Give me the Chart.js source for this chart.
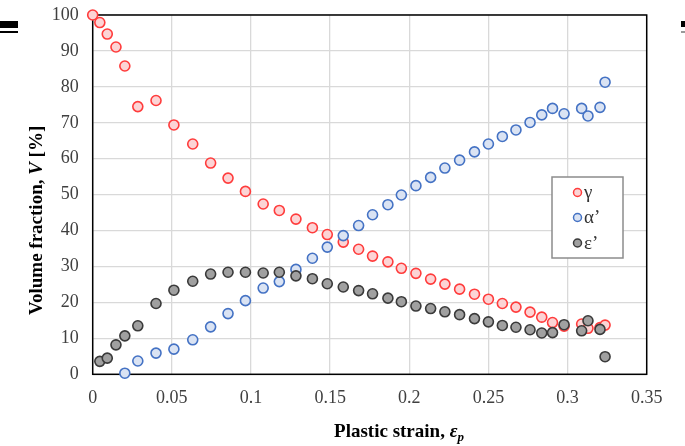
<!DOCTYPE html>
<html>
<head>
<meta charset="utf-8">
<script src="https://cdn.jsdelivr.net/npm/chart.js@4/dist/chart.umd.min.js"></script>
<style>
  html, body { margin: 0; padding: 0; background: #fff; }
  #wrap { position: relative; width: 685px; height: 446px; }
  canvas { position: absolute; left: 0; top: 0; }
  .bar { position: absolute; background: #000; }
</style>
</head>
<body>
<div id="wrap">
  <canvas id="c" width="685" height="446" style="width:685px;height:446px"></canvas>
  <div class="bar" style="left:0;top:21px;width:18px;height:7px"></div>
  <div class="bar" style="left:0;top:31px;width:18px;height:2px"></div>
  <div class="bar" style="left:681px;top:21px;width:4px;height:6px"></div>
  <div class="bar" style="left:681px;top:31px;width:4px;height:2px;background:#999"></div>
</div>
<script>
// ---- data ----
const strain = [0, 0.0045, 0.0092, 0.0147, 0.0203, 0.0285, 0.0400, 0.0513, 0.0632, 0.0745, 0.0855, 0.0965,
  0.1077, 0.1179, 0.1284, 0.1388, 0.1482, 0.1583, 0.1680, 0.1768, 0.1865, 0.1950, 0.2042, 0.2135,
  0.2225, 0.2318, 0.2412, 0.2500, 0.2588, 0.2674, 0.2763, 0.2837, 0.2905, 0.2978, 0.3089, 0.3129,
  0.3205, 0.3237];
const gamma = [100, 97.9, 94.7, 91.1, 85.8, 74.5, 76.2, 69.4, 64.1, 58.8, 54.6, 50.9, 47.4, 45.6, 43.2,
  40.8, 38.9, 36.8, 34.8, 32.9, 31.3, 29.5, 28.1, 26.5, 25.1, 23.7, 22.3, 20.9, 19.7, 18.7, 17.3,
  15.9, 14.4, 13.4, 14.0, 12.8, 13.0, 13.7];
const alphaP = [null, null, null, null, 0.3, 3.7, 5.9, 7.0, 9.6, 13.2, 16.9, 20.5, 24.0, 25.8, 29.2,
  32.3, 35.4, 38.6, 41.4, 44.4, 47.2, 49.9, 52.5, 54.8, 57.4, 59.6, 61.9, 64.1, 66.2, 68.0, 70.1,
  72.2, 74.0, 72.5, 74.0, 71.9, 74.3, 81.3];
const epsP = [null, 3.6, 4.5, 8.2, 10.7, 13.5, 19.7, 23.4, 25.9, 27.9, 28.4, 28.4, 28.2, 28.4, 27.4,
  26.6, 25.2, 24.3, 23.3, 22.4, 21.2, 20.2, 19.0, 18.3, 17.4, 16.6, 15.5, 14.6, 13.6, 13.1, 12.4,
  11.5, 11.6, 13.8, 12.1, 14.9, 12.5, 4.9];
const seriesNames = ['γ', 'α’', 'ε’'];
const xTickLabels = ['0', '0.05', '0.1', '0.15', '0.2', '0.25', '0.3', '0.35'];
const yTickLabels = ['0', '10', '20', '30', '40', '50', '60', '70', '80', '90', '100'];

function pts(vals) {
  const out = [];
  vals.forEach((v, i) => { if (v !== null) out.push({ x: strain[i], y: v }); });
  return out;
}

const styles = [
  { border: 'rgb(255,60,60)', fill: 'rgb(252,212,213)', order: 3 },
  { border: 'rgb(68,114,196)', fill: 'rgb(218,227,243)', order: 2 },
  { border: 'rgb(58,58,58)', fill: 'rgb(160,160,160)', order: 1 }
];
const seriesVals = [gamma, alphaP, epsP];

const SERIF = '"Liberation Serif", "Times New Roman", serif';

const framePlugin = {
  id: 'frame',
  beforeDatasetsDraw(chart) {
    const { ctx, chartArea: a } = chart;
    ctx.save();
    ctx.strokeStyle = '#000';
    ctx.lineWidth = 1.5;
    ctx.strokeRect(a.left, a.top, a.right - a.left, a.bottom - a.top);
    ctx.restore();
  },
  afterDatasetsDraw(chart) {
    const { ctx } = chart;
    ctx.save();
    const bx = 552, by = 177, bw = 71, bh = 81;
    ctx.fillStyle = '#fff';
    ctx.fillRect(bx, by, bw, bh);
    ctx.strokeStyle = '#8c8c8c';
    ctx.lineWidth = 1.5;
    ctx.strokeRect(bx, by, bw, bh);
    const rows = [192.5, 217.5, 243];
    seriesNames.forEach((name, i) => {
      ctx.beginPath();
      ctx.arc(577.5, rows[i], 4, 0, Math.PI * 2);
      ctx.fillStyle = styles[i].fill;
      ctx.fill();
      ctx.lineWidth = 1.5;
      ctx.strokeStyle = styles[i].border;
      ctx.stroke();
      ctx.fillStyle = '#333';
      ctx.font = '19px ' + SERIF;
      ctx.textBaseline = 'middle';
      ctx.textAlign = 'left';
      ctx.fillText(name, 584, rows[i] + 1);
    });
    ctx.restore();
  },
  afterDraw(chart) {
    const { ctx } = chart;
    ctx.save();
    ctx.fillStyle = '#000';
    ctx.textBaseline = 'alphabetic';
    const bold = 'bold 19px ' + SERIF;
    const boldIt = 'italic bold 19px ' + SERIF;
    const sub = 'italic bold 13px ' + SERIF;
    ctx.font = bold;
    const t1 = 'Plastic strain, ';
    const w1 = ctx.measureText(t1).width;
    ctx.font = boldIt;
    const w2 = ctx.measureText('ε').width;
    ctx.font = sub;
    const w3 = ctx.measureText('p').width;
    let x = 399 - (w1 + w2 + w3) / 2;
    const y = 437;
    ctx.font = bold; ctx.fillText(t1, x, y); x += w1;
    ctx.font = boldIt; ctx.fillText('ε', x, y); x += w2;
    ctx.font = sub; ctx.fillText('p', x, y + 4);
    ctx.translate(42, 315);
    ctx.rotate(-Math.PI / 2);
    let xx = 0;
    const p1 = 'Volume fraction, ', p2 = 'V', p3 = ' [%]';
    ctx.font = bold; ctx.fillText(p1, xx, 0); xx += ctx.measureText(p1).width;
    ctx.font = boldIt; ctx.fillText(p2, xx, 0); xx += ctx.measureText(p2).width;
    ctx.font = bold; ctx.fillText(p3, xx, 0);
    ctx.restore();
  }
};

new Chart(document.getElementById('c'), {
  type: 'scatter',
  data: {
    datasets: seriesVals.map((vals, i) => ({
      label: seriesNames[i],
      data: pts(vals),
      backgroundColor: styles[i].fill,
      borderColor: styles[i].border,
      borderWidth: 1.6,
      pointRadius: 5,
      clip: false,
      order: styles[i].order
    }))
  },
  options: {
    responsive: false,
    animation: false,
    layout: { padding: { top: 15, right: 38.3, left: 0, bottom: 0 } },
    plugins: { legend: { display: false }, tooltip: { enabled: false } },
    scales: {
      x: {
        type: 'linear', min: 0, max: 0.35,
        ticks: {
          stepSize: 0.05, padding: 13, color: '#404040',
          font: { family: SERIF, size: 18 },
          callback: (v, i) => xTickLabels[i]
        },
        grid: { color: '#d9d9d9', lineWidth: 1.3, drawTicks: false },
        border: { display: false },
        afterFit: s => { s.height = 71.7; s.paddingLeft = 0; s.paddingRight = 0; }
      },
      y: {
        type: 'linear', min: 0, max: 100,
        ticks: {
          stepSize: 10, padding: 14, color: '#404040',
          font: { family: SERIF, size: 18 },
          callback: (v, i) => yTickLabels[i]
        },
        grid: { color: '#d9d9d9', lineWidth: 1.3, drawTicks: false },
        border: { display: false },
        afterFit: s => { s.width = 92.7; s.paddingTop = 0; s.paddingBottom = 0; }
      }
    }
  },
  plugins: [framePlugin]
});
</script>
</body>
</html>
